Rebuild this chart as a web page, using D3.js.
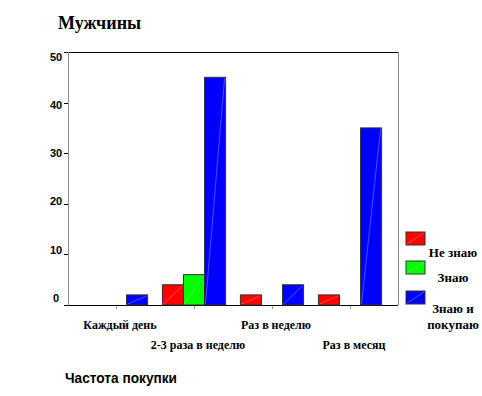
<!DOCTYPE html>
<html><head><meta charset="utf-8">
<script src="https://cdn.jsdelivr.net/npm/d3@7"></script>
<style>html,body{margin:0;padding:0;background:#fff;}svg{display:block;}</style>
</head><body>
<script>
const categories = ["Каждый день", "2-3 раза в неделю", "Раз в неделю", "Раз в месяц"];
const seriesNames = ["Не знаю", "Знаю", "Знаю и покупаю"];
const notKnow = [0, 4, 2, 2];
const know = [0, 6, 0, 0];
const knowBuy = [2, 45, 4, 35];
const seriesValues = [notKnow, know, knowBuy];
const colors = ["#ff0000", "#00ff00", "#0000ff"];
const yTicks = [0, 10, 20, 30, 40, 50];
const legendLines = [["Не знаю"], ["Знаю"], ["Знаю и", "покупаю"]];

const W = 482, H = 396;
const svg = d3.select("body").append("svg").attr("width", W).attr("height", H);

const pLeft = 68, pRight = 398, pTop = 52, pBottom = 305;
const y = d3.scaleLinear().domain([0, 50]).range([pBottom, pTop]);
const yLab = d3.scaleLinear().domain([0, 50]).range([298, 57]);
const x0 = d3.scaleBand().domain(categories).range([77, 389]).paddingInner(0.19).paddingOuter(0.095);
const x1 = d3.scaleBand().domain(seriesNames).range([0, x0.bandwidth()]);

// title
svg.append("text").attr("x", 58).attr("y", 29)
  .style("font-family", "'Liberation Serif','Times New Roman',serif").style("font-weight", "bold")
  .style("font-size", "18px").text("Мужчины");

// frame
svg.append("line").attr("x1", pLeft).attr("x2", pRight).attr("y1", pTop + 0.5).attr("y2", pTop + 0.5).attr("stroke", "#000");
svg.append("line").attr("x1", pRight + 0.5).attr("x2", pRight + 0.5).attr("y1", pTop).attr("y2", pBottom).attr("stroke", "#888");
svg.append("line").attr("x1", pLeft + 0.5).attr("x2", pLeft + 0.5).attr("y1", pTop).attr("y2", pBottom).attr("stroke", "#888");
svg.append("line").attr("x1", pLeft).attr("x2", pRight).attr("y1", pBottom + 0.5).attr("y2", pBottom + 0.5).attr("stroke", "#000");

// y ticks
svg.selectAll(".yt").data(yTicks).enter().append("line")
  .attr("x1", pLeft - 4).attr("x2", pLeft).attr("y1", d => Math.round(y(d)) + 0.5).attr("y2", d => Math.round(y(d)) + 0.5)
  .attr("stroke", "#000");
svg.selectAll(".yl").data(yTicks).enter().append("text")
  .attr("x", 56).attr("y", d => yLab(d)).attr("dy", "0.35em").attr("text-anchor", "middle")
  .style("font-family", "'Liberation Sans',Arial,sans-serif").style("font-weight", "bold").style("font-size", "11px")
  .text(d => d);

// x ticks
svg.selectAll(".xt").data(categories).enter().append("line")
  .attr("x1", d => Math.round(x0(d) + x0.bandwidth() / 2) + 0.5).attr("x2", d => Math.round(x0(d) + x0.bandwidth() / 2) + 0.5)
  .attr("y1", pBottom + 1).attr("y2", pBottom + 4).attr("stroke", "#999");

// x labels
svg.selectAll(".xl").data(categories).enter().append("text")
  .attr("x", d => x0(d) + x0.bandwidth() / 2 + 4).attr("y", (d, i) => i % 2 === 0 ? 329 : 349)
  .attr("text-anchor", "middle")
  .style("font-family", "'Liberation Serif','Times New Roman',serif").style("font-weight", "bold").style("font-size", "12px")
  .text(d => d);

// bars
const barData = [];
categories.forEach((c, ci) => seriesNames.forEach((s, si) => {
  const v = seriesValues[si][ci];
  if (v > 0) barData.push({c, s, si, v});
}));
const g = svg.append("g");
const bars = g.selectAll("g.bar").data(barData).enter().append("g");
bars.append("rect")
  .attr("x", d => x0(d.c) + x1(d.s)).attr("y", d => y(d.v))
  .attr("width", x1.bandwidth()).attr("height", d => pBottom - y(d.v))
  .attr("fill", d => colors[d.si]).attr("stroke", "#333").attr("stroke-width", 1);
bars.append("line")
  .attr("x1", d => x0(d.c) + x1(d.s) + 1).attr("y1", pBottom - 1)
  .attr("x2", d => x0(d.c) + x1(d.s) + x1.bandwidth() - 1).attr("y2", d => y(d.v) + 1)
  .attr("stroke", "#fff").attr("stroke-opacity", 0.3).attr("stroke-width", 1);

// legend
const ly = [232, 261, 291];
const lg = svg.selectAll(".lg").data(seriesNames).enter().append("g");
lg.append("rect").attr("x", 406).attr("y", (d, i) => ly[i]).attr("width", 19).attr("height", 13)
  .attr("fill", (d, i) => colors[i]).attr("stroke", "#333");
lg.append("line").attr("x1", 407).attr("y1", (d, i) => ly[i] + 12).attr("x2", 424).attr("y2", (d, i) => ly[i] + 1)
  .attr("stroke", "#fff").attr("stroke-opacity", 0.3);
const labY = [[257], [282], [313, 329]];
lg.each(function (d, i) {
  legendLines[i].forEach((t, j) => {
    d3.select(this).append("text").attr("x", 453).attr("y", labY[i][j]).attr("text-anchor", "middle")
      .style("font-family", "'Liberation Serif','Times New Roman',serif").style("font-weight", "bold").style("font-size", "13px")
      .text(t);
  });
});

// axis title
svg.append("text").attr("x", 65).attr("y", 383)
  .style("font-family", "'Liberation Sans',Arial,sans-serif").style("font-weight", "bold").style("font-size", "14px")
  .attr("textLength", 112).attr("lengthAdjust", "spacingAndGlyphs")
  .text("Частота покупки");
</script>
</body></html>
